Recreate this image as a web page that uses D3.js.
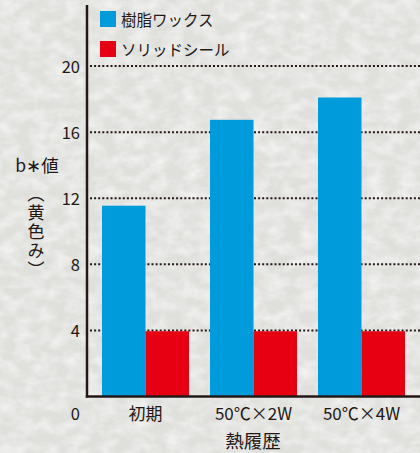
<!DOCTYPE html>
<html><head><meta charset="utf-8">
<script src="https://cdn.jsdelivr.net/npm/d3@7"></script>
<style>
html,body{margin:0;padding:0;background:#e5e5e2;}
svg{display:block;}
text{font-family:"Noto Sans CJK JP","Noto Sans",sans-serif;fill:#231815;}
</style></head>
<body>
<svg id="c" width="420" height="453"></svg>
<script>
const categories = ["初期", "50℃×2W", "50℃×4W"];
const seriesNames = ["樹脂ワックス", "ソリッドシール"];
const resinWax = [11.55, 16.75, 18.1];
const solidSeal = [3.95, 3.95, 3.95];
const yTicks = [0, 4, 8, 12, 16, 20];
const yTitle = "b∗値";
const yTitleVert = "（黄色み）";
const xTitle = "熱履歴";
const colors = ["#009bdb", "#e60012"];

const svg = d3.select("#c");
const W = 420, H = 453;

// paper texture background
const defs = svg.append("defs");
const f = defs.append("filter").attr("id","paper").attr("x",0).attr("y",0).attr("width","100%").attr("height","100%");
f.append("feTurbulence").attr("type","fractalNoise").attr("baseFrequency","0.06 0.09").attr("numOctaves",3).attr("seed",4).attr("result","n");
f.append("feColorMatrix").attr("in","n").attr("type","matrix")
 .attr("values","0 0 0 0 1  0 0 0 0 1  0 0 0 0 1  0 0 0 -1.8 1.2").attr("result","w");
f.append("feComposite").attr("in","w").attr("in2","SourceGraphic").attr("operator","in");
svg.append("rect").attr("width",W).attr("height",H).attr("fill","#dfdfdc");
svg.append("rect").attr("width",W).attr("height",H).attr("fill","#ffffff").attr("opacity",0.6).attr("filter","url(#paper)");

const axisX = 87, baseY = 396.5, topY = 5;
const y = d3.scaleLinear().domain([0, 23.7]).range([baseY, topY]);
const x0 = d3.scaleBand().domain(categories).range([91.5, 415.5]).paddingInner(0.1944).paddingOuter(0.0972);
const x1 = d3.scaleBand().domain(seriesNames).range([0, x0.bandwidth()]).padding(0);

// gridlines
svg.append("g").selectAll("line").data(yTicks.filter(d=>d>0)).join("line")
  .attr("x1", axisX+3).attr("x2", W).attr("y1", d=>y(d)).attr("y2", d=>y(d))
  .attr("stroke","#231815").attr("stroke-width",2).attr("stroke-dasharray","2 2.1");

// bars
const groups = svg.append("g").selectAll("g").data(categories).join("g")
  .attr("transform", d=>`translate(${x0(d)},0)`);
groups.selectAll("rect").data((d,i)=>[resinWax[i], solidSeal[i]].map((v,j)=>({v, s:seriesNames[j], j})))
  .join("rect")
  .attr("x", d=>x1(d.s)).attr("width", x1.bandwidth())
  .attr("y", d=>y(d.v)).attr("height", d=>baseY - y(d.v))
  .attr("fill", d=>colors[d.j]);

// y axis
const yAxis = svg.append("g").attr("transform",`translate(${axisX},0)`)
  .call(d3.axisLeft(y).tickValues(yTicks).tickSize(0).tickPadding(7));
yAxis.select(".domain").remove();
yAxis.selectAll("text").style("font-size","16.5px").attr("fill","#231815")
  .attr("dy", d=> d===0 ? "1.42em" : "0.36em");
svg.append("line").attr("x1",axisX).attr("x2",axisX).attr("y1",topY).attr("y2",baseY+1)
  .attr("stroke","#231815").attr("stroke-width",2.5);

// x axis
const xAxis = svg.append("g").attr("transform",`translate(0,${baseY})`)
  .call(d3.axisBottom(x0).tickSize(0).tickPadding(11));
xAxis.select(".domain").remove();
xAxis.selectAll("text").style("font-size","17px").attr("fill","#231815");
svg.append("line").attr("x1",axisX-1.25).attr("x2",W).attr("y1",baseY).attr("y2",baseY)
  .attr("stroke","#231815").attr("stroke-width",2.5);

// axis titles
svg.append("text").attr("x",37).attr("y",172).attr("text-anchor","middle").style("font-size","17.5px").text(yTitle);
svg.append("text").attr("x",36).attr("y",185)
  .style("writing-mode","vertical-rl").style("font-size","17px").style("letter-spacing","2px")
  .text(yTitleVert);
svg.append("text").attr("x",253).attr("y",448).attr("text-anchor","middle").style("font-size","18.5px").text(xTitle);

// legend
const lg = svg.append("g").selectAll("g").data(seriesNames).join("g")
  .attr("transform",(d,i)=>`translate(100,${11+i*30})`);
lg.append("rect").attr("width",16).attr("height",16).attr("fill",(d,i)=>colors[i]);
lg.append("text").attr("x",21).attr("y",8).attr("dominant-baseline","central").style("font-size","15.5px").text(d=>d);
</script>
</body></html>
